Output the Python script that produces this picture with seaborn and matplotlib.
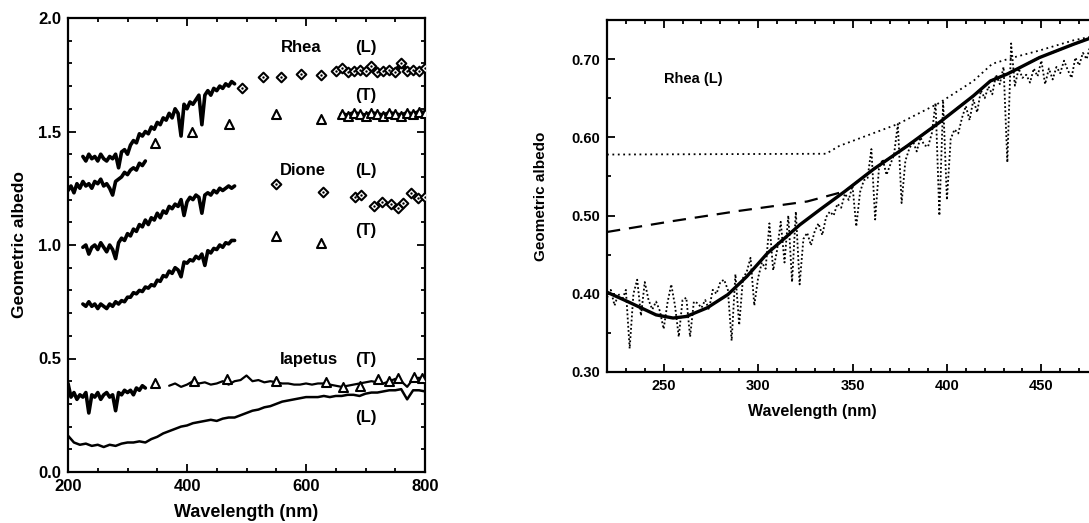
import matplotlib
matplotlib.use("Agg")
import matplotlib.pyplot as plt
import numpy as np
import seaborn as sns
from matplotlib.ticker import MultipleLocator

sns.set_theme(style="ticks")
plt.rcParams["font.family"] = ["Liberation Sans", "DejaVu Sans"]
plt.rcParams["font.weight"] = "bold"
plt.rcParams["text.color"] = "black"
plt.rcParams["axes.labelcolor"] = "black"

# ---------------- left panel: full spectra ----------------
# Rhea leading (L) spectrum, 5 nm grid
rhea_l_nm = np.arange(225, 481, 5)
rhea_l = [1.39, 1.37, 1.40, 1.38, 1.39, 1.37, 1.40, 1.38, 1.37, 1.39, 1.38, 1.40,
          1.34, 1.41, 1.42, 1.40, 1.44, 1.46, 1.45, 1.49, 1.48, 1.50, 1.49, 1.52,
          1.51, 1.54, 1.53, 1.56, 1.55, 1.58, 1.56, 1.60, 1.58, 1.48, 1.62, 1.60,
          1.63, 1.62, 1.64, 1.66, 1.53, 1.66, 1.68, 1.66, 1.69, 1.68, 1.70, 1.69,
          1.71, 1.70, 1.72, 1.71]
rhea_l_pts_nm = [493, 527, 558, 592, 625]
rhea_l_pts = [1.69, 1.74, 1.74, 1.755, 1.75]
rhea_l_band_nm = [650, 660, 670, 680, 690, 700, 710, 720, 730, 740, 750, 760, 770, 780, 790, 800]
rhea_l_band = [1.765, 1.78, 1.76, 1.765, 1.77, 1.765, 1.79, 1.76, 1.765, 1.77, 1.76,
               1.80, 1.765, 1.77, 1.765, 1.78]

# Rhea trailing (T)
rhea_t_nm = np.arange(200, 331, 5)
rhea_t = [1.24, 1.26, 1.23, 1.27, 1.25, 1.28, 1.26, 1.27, 1.25, 1.28, 1.27, 1.29,
          1.26, 1.27, 1.25, 1.22, 1.28, 1.29, 1.30, 1.32, 1.31, 1.33, 1.34, 1.33,
          1.36, 1.35, 1.37]
rhea_t_pts_nm = [347, 409, 471, 549, 625]
rhea_t_pts = [1.45, 1.50, 1.535, 1.575, 1.555]
rhea_t_band_nm = [660, 670, 680, 690, 700, 710, 720, 730, 740, 750, 760, 770, 780, 790, 800]
rhea_t_band = [1.575, 1.57, 1.58, 1.575, 1.57, 1.58, 1.575, 1.57, 1.58, 1.575, 1.57,
               1.58, 1.575, 1.585, 1.58]

# Dione (L)
dione_l_nm = np.arange(225, 481, 5)
dione_l = [0.99, 1.00, 0.96, 0.99, 1.00, 0.98, 1.01, 0.99, 0.97, 1.00, 0.98, 0.94,
           1.01, 1.03, 1.02, 1.05, 1.04, 1.07, 1.06, 1.09, 1.08, 1.11, 1.09, 1.12,
           1.11, 1.14, 1.12, 1.15, 1.14, 1.17, 1.16, 1.18, 1.17, 1.20, 1.13, 1.19,
           1.21, 1.20, 1.22, 1.21, 1.14, 1.22, 1.23, 1.22, 1.24, 1.23, 1.25, 1.24,
           1.25, 1.26, 1.25, 1.26]
dione_l_pts_nm = [549, 628, 682, 693, 715, 727, 743, 755, 763, 777, 788, 800]
dione_l_pts = [1.27, 1.235, 1.213, 1.22, 1.17, 1.19, 1.18, 1.165, 1.185, 1.23, 1.205, 1.21]

# Dione (T)
dione_t_nm = np.arange(225, 481, 5)
dione_t = [0.74, 0.73, 0.75, 0.73, 0.74, 0.72, 0.74, 0.73, 0.72, 0.74, 0.73, 0.75,
           0.74, 0.755, 0.75, 0.77, 0.77, 0.79, 0.785, 0.80, 0.795, 0.815, 0.81,
           0.825, 0.82, 0.845, 0.84, 0.865, 0.86, 0.885, 0.875, 0.90, 0.89, 0.86,
           0.925, 0.92, 0.935, 0.93, 0.95, 0.94, 0.96, 0.91, 0.975, 0.965, 0.985,
           0.98, 1.00, 0.99, 1.01, 1.005, 1.02, 1.02]
dione_t_pts_nm = [549, 625]
dione_t_pts = [1.04, 1.01]

# Iapetus (T)
iap_t_uv_nm = np.arange(200, 331, 5)
iap_t_uv = [0.39, 0.33, 0.35, 0.32, 0.34, 0.33, 0.35, 0.26, 0.34, 0.33, 0.35, 0.32,
            0.34, 0.35, 0.33, 0.34, 0.27, 0.35, 0.34, 0.36, 0.35, 0.36, 0.34, 0.37,
            0.36, 0.38, 0.37]
iap_t_vis_nm = np.arange(370, 801, 10)
iap_t_vis = [0.38, 0.39, 0.375, 0.385, 0.40, 0.39, 0.395, 0.385, 0.39, 0.40, 0.385,
             0.40, 0.405, 0.425, 0.40, 0.405, 0.395, 0.40, 0.395, 0.39, 0.39, 0.385,
             0.385, 0.39, 0.385, 0.39, 0.39, 0.385, 0.38, 0.375, 0.38, 0.385, 0.39,
             0.395, 0.40, 0.395, 0.39, 0.40, 0.41, 0.40, 0.375, 0.41, 0.415, 0.41]
iap_t_pts_nm = [347, 412, 468, 549, 634, 662, 690, 721, 740, 755, 782, 795]
iap_t_pts = [0.39, 0.40, 0.41, 0.40, 0.395, 0.375, 0.38, 0.41, 0.40, 0.415, 0.42, 0.415]

# Iapetus (L)
iap_l_nm = np.arange(200, 801, 10)
iap_l = [0.16, 0.13, 0.12, 0.125, 0.115, 0.12, 0.11, 0.12, 0.115, 0.125, 0.13, 0.13,
         0.135, 0.13, 0.145, 0.155, 0.17, 0.18, 0.19, 0.20, 0.205, 0.215, 0.22, 0.225,
         0.23, 0.225, 0.235, 0.24, 0.24, 0.25, 0.26, 0.27, 0.275, 0.285, 0.29, 0.30,
         0.31, 0.315, 0.32, 0.325, 0.33, 0.33, 0.33, 0.335, 0.33, 0.335, 0.335, 0.34,
         0.34, 0.335, 0.345, 0.35, 0.35, 0.355, 0.36, 0.36, 0.365, 0.32, 0.36, 0.36,
         0.355]

# ---------------- right panel: Rhea (L) close-up ----------------
obs_nm = np.arange(220, 477, 2)
obs = [0.395, 0.405, 0.385, 0.400, 0.392, 0.405, 0.330, 0.400, 0.418, 0.372,
       0.415, 0.392, 0.380, 0.390, 0.378, 0.355, 0.388, 0.412, 0.385, 0.345,
       0.392, 0.395, 0.345, 0.390, 0.388, 0.382, 0.392, 0.380, 0.405, 0.400,
       0.415, 0.418, 0.405, 0.340, 0.425, 0.360, 0.420, 0.428, 0.446, 0.385,
       0.420, 0.440, 0.432, 0.490, 0.430, 0.455, 0.492, 0.440, 0.500, 0.415,
       0.505, 0.412, 0.470, 0.478, 0.462, 0.480, 0.490, 0.475, 0.498, 0.505,
       0.500, 0.515, 0.510, 0.528, 0.520, 0.538, 0.486, 0.530, 0.545, 0.548,
       0.585, 0.495, 0.560, 0.572, 0.552, 0.565, 0.578, 0.617, 0.516, 0.570,
       0.585, 0.595, 0.582, 0.600, 0.590, 0.588, 0.605, 0.644, 0.500, 0.645,
       0.520, 0.598, 0.610, 0.605, 0.625, 0.640, 0.622, 0.648, 0.632, 0.660,
       0.650, 0.665, 0.655, 0.680, 0.668, 0.690, 0.568, 0.720, 0.666, 0.688,
       0.676, 0.680, 0.670, 0.688, 0.678, 0.698, 0.668, 0.688, 0.674, 0.690,
       0.682, 0.698, 0.686, 0.676, 0.702, 0.692, 0.708, 0.700, 0.718]

model_nm = [220, 231, 246, 255, 262, 273, 284, 294, 305, 315, 322, 333, 346, 361,
            379, 396, 414, 423, 432, 449, 467, 475, 480]
model = [0.402, 0.390, 0.373, 0.369, 0.371, 0.382, 0.399, 0.422, 0.452, 0.473,
         0.488, 0.508, 0.531, 0.559, 0.589, 0.619, 0.653, 0.672, 0.681, 0.702,
         0.719, 0.726, 0.730]

dashed_nm = [220, 255, 290, 326, 346, 361, 379, 396, 414, 423, 432, 449, 467, 475, 480]
dashed = [0.479, 0.493, 0.506, 0.518, 0.531, 0.559, 0.589, 0.619, 0.653, 0.672,
          0.681, 0.702, 0.719, 0.726, 0.730]

upper_nm = [220, 336, 343, 374, 396, 414, 424, 435, 449, 467, 475, 480]
upper = [0.578, 0.579, 0.589, 0.617, 0.644, 0.672, 0.694, 0.702, 0.711, 0.724,
         0.728, 0.731]

fig = plt.figure(figsize=(10.89, 5.23), dpi=100)
ax1 = fig.add_axes([68 / 1089, 51 / 523, 357 / 1089, 454 / 523])
ax2 = fig.add_axes([607 / 1089, 151 / 523, 491 / 1089, 352 / 523])

k = dict(color="black", ax=ax1, legend=False)
for xs, ys in [(rhea_l_nm, rhea_l), (rhea_t_nm, rhea_t), (dione_l_nm, dione_l),
               (dione_t_nm, dione_t), (iap_t_uv_nm, iap_t_uv)]:
    sns.lineplot(x=xs, y=ys, lw=2.6, **k)
sns.lineplot(x=rhea_l_band_nm, y=rhea_l_band, lw=3.5, **k)
sns.lineplot(x=rhea_t_band_nm, y=rhea_t_band, lw=3.5, **k)
sns.lineplot(x=iap_t_vis_nm, y=iap_t_vis, lw=1.6, **k)
sns.lineplot(x=iap_l_nm, y=iap_l, lw=1.8, **k)

diam = dict(marker="D", s=24, color="white", edgecolor="black", linewidth=1.5, ax=ax1, zorder=4)
for xs, ys in [(rhea_l_pts_nm, rhea_l_pts), (rhea_l_band_nm, rhea_l_band),
               (dione_l_pts_nm, dione_l_pts)]:
    sns.scatterplot(x=xs, y=ys, **diam)
    sns.scatterplot(x=xs, y=ys, marker="o", s=3, color="black", linewidth=0, ax=ax1, zorder=5)
tri = dict(marker="^", s=42, color="white", edgecolor="black", linewidth=1.5, ax=ax1, zorder=4)
for xs, ys in [(rhea_t_pts_nm, rhea_t_pts), (rhea_t_band_nm, rhea_t_band),
               (dione_t_pts_nm, dione_t_pts), (iap_t_pts_nm, iap_t_pts)]:
    sns.scatterplot(x=xs, y=ys, **tri)

lab = dict(fontsize=12, fontweight="bold", ha="center", va="center", color="black")
ax1.text(592, 1.87, "Rhea", **lab)
ax1.text(701, 1.87, "(L)", **lab)
ax1.text(701, 1.66, "(T)", **lab)
ax1.text(594, 1.33, "Dione", **lab)
ax1.text(701, 1.33, "(L)", **lab)
ax1.text(701, 1.065, "(T)", **lab)
ax1.text(605, 0.495, "Iapetus", **lab)
ax1.text(701, 0.495, "(T)", **lab)
ax1.text(701, 0.24, "(L)", **lab)

ax1.set_xlim(200, 800)
ax1.set_ylim(0, 2.0)
ax1.xaxis.set_major_locator(MultipleLocator(200))
ax1.xaxis.set_minor_locator(MultipleLocator(50))
ax1.yaxis.set_major_locator(MultipleLocator(0.5))
ax1.yaxis.set_minor_locator(MultipleLocator(0.1))
ax1.yaxis.set_major_formatter(plt.FormatStrFormatter("%.1f"))
ax1.set_xlabel("Wavelength (nm)", fontsize=13, fontweight="bold", color="black")
ax1.set_ylabel("Geometric albedo", fontsize=12.5, fontweight="bold", color="black")
ax1.xaxis.set_label_coords(0.5, -0.07)
ax1.yaxis.set_label_coords(-0.115, 0.5)

# right panel
sns.lineplot(x=obs_nm, y=obs, color="black", lw=1.3, linestyle=(0, (1, 1.3)), ax=ax2)
sns.lineplot(x=upper_nm, y=upper, color="black", lw=1.3, linestyle=(0, (1, 2)), ax=ax2)
sns.lineplot(x=dashed_nm, y=dashed, color="black", lw=1.6, ax=ax2,
             linestyle=(0, (6, 4)))
sns.lineplot(x=model_nm, y=model, color="black", lw=2.4, ax=ax2)
ax2.text(250, 0.675, "Rhea (L)", fontsize=10.5, fontweight="bold", ha="left",
         va="center", color="black")

ax2.set_xlim(220, 480)
ax2.set_ylim(0.30, 0.75)
ax2.xaxis.set_major_locator(MultipleLocator(50))
ax2.xaxis.set_minor_locator(MultipleLocator(10))
ax2.yaxis.set_major_locator(MultipleLocator(0.1))
ax2.yaxis.set_minor_locator(MultipleLocator(0.05))
ax2.yaxis.set_major_formatter(plt.FormatStrFormatter("%.2f"))
ax2.set_xlabel("Wavelength (nm)", fontsize=11.5, fontweight="bold", color="black")
ax2.set_ylabel("Geometric albedo", fontsize=11, fontweight="bold", color="black")
ax2.xaxis.set_label_coords((812 - 607) / 491, -0.09)
ax2.yaxis.set_label_coords(-0.12, 0.5)

for ax, fs in [(ax1, 12), (ax2, 10.5)]:
    for s in ax.spines.values():
        s.set_linewidth(1.6)
        s.set_color("black")
    ax.tick_params(which="both", direction="in", top=True, right=True, colors="black",
                   labelsize=fs, width=1.3)
    ax.tick_params(which="major", length=6, pad=5)
    ax.tick_params(which="minor", length=3)
    for t in ax.get_xticklabels() + ax.get_yticklabels():
        t.set_fontweight("bold")

fig.savefig("out.png", dpi=100)
